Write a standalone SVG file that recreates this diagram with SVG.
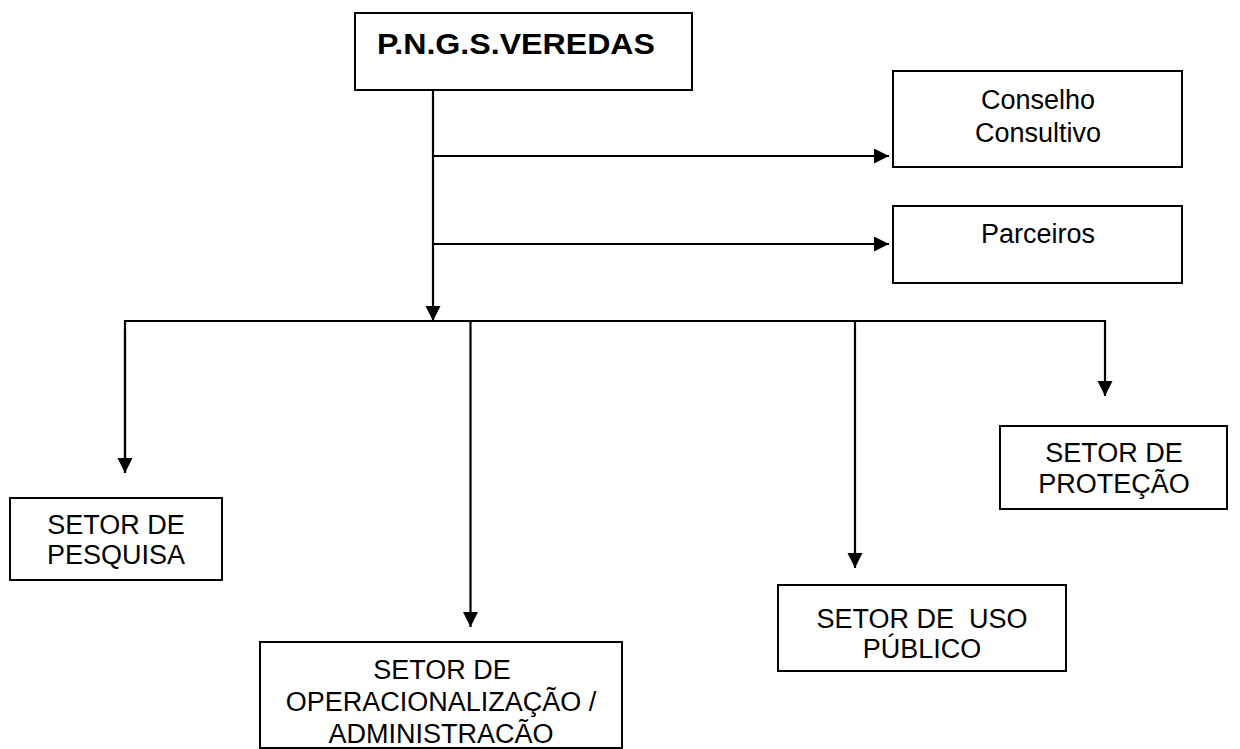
<svg xmlns="http://www.w3.org/2000/svg" width="1240" height="749" viewBox="0 0 1240 749">
<style>
.box{fill:#fff;stroke:#000;stroke-width:2}
.ln{fill:none;stroke:#000;stroke-width:2.2}
.t{font-family:"Liberation Sans",Arial,sans-serif;font-size:27px;fill:#000;text-anchor:middle}
.tb{font-family:"Liberation Sans",Arial,sans-serif;font-size:30px;font-weight:bold;fill:#000;text-anchor:middle}
</style>
<defs>
<marker id="ah" markerUnits="userSpaceOnUse" markerWidth="16" markerHeight="16" refX="15" refY="7.5" orient="auto">
<path d="M0,0 L15,7.5 L0,15 Z" fill="#000"/>
</marker>
</defs>
<rect width="1240" height="749" fill="#fff"/>
<g id="connectors">
<line class="ln" x1="433" y1="90" x2="433" y2="321" marker-end="url(#ah)"/>
<line class="ln" x1="433" y1="156" x2="889" y2="156" marker-end="url(#ah)"/>
<line class="ln" x1="433" y1="244" x2="889" y2="244" marker-end="url(#ah)"/>
<polyline class="ln" points="125,473 125,321 1105,321 1105,396" marker-end="url(#ah)"/>
<line class="ln" x1="470.5" y1="321" x2="470.5" y2="627" marker-end="url(#ah)"/>
<line class="ln" x1="855" y1="321" x2="855" y2="568" marker-end="url(#ah)"/>
<line class="ln" x1="125" y1="330" x2="125" y2="473" marker-end="url(#ah)"/>
</g>
<g id="node-pngs">
<rect class="box" x="355" y="13" width="337" height="77"/>
<text class="tb" x="516" y="54" textLength="278" lengthAdjust="spacingAndGlyphs">P.N.G.S.VEREDAS</text>
</g>
<g id="node-conselho">
<rect class="box" x="893" y="71" width="289" height="96"/>
<text class="t" x="1038" y="109" font-size="28.5">Conselho</text>
<text class="t" x="1038" y="142" font-size="28.5">Consultivo</text>
</g>
<g id="node-parceiros">
<rect class="box" x="893" y="206" width="289" height="77"/>
<text class="t" x="1038" y="243" font-size="28.5">Parceiros</text>
</g>
<g id="node-pesquisa">
<rect class="box" x="10" y="498" width="212" height="82"/>
<text class="t" x="116" y="534">SETOR DE</text>
<text class="t" x="116" y="564">PESQUISA</text>
</g>
<g id="node-operacionalizacao">
<rect class="box" x="260" y="642" width="362" height="106"/>
<text class="t" x="442" y="679">SETOR DE</text>
<text class="t" x="441" y="711">OPERACIONALIZAÇÃO /</text>
<text class="t" x="441" y="743">ADMINISTRACÃO</text>
</g>
<g id="node-uso">
<rect class="box" x="778" y="585" width="288" height="86"/>
<text class="t" x="922" y="628" xml:space="preserve">SETOR DE  USO</text>
<text class="t" x="922" y="658">PÚBLICO</text>
</g>
<g id="node-protecao">
<rect class="box" x="1000" y="426" width="227" height="83"/>
<text class="t" x="1114" y="462">SETOR DE</text>
<text class="t" x="1114" y="493">PROTEÇÃO</text>
</g>
</svg>
